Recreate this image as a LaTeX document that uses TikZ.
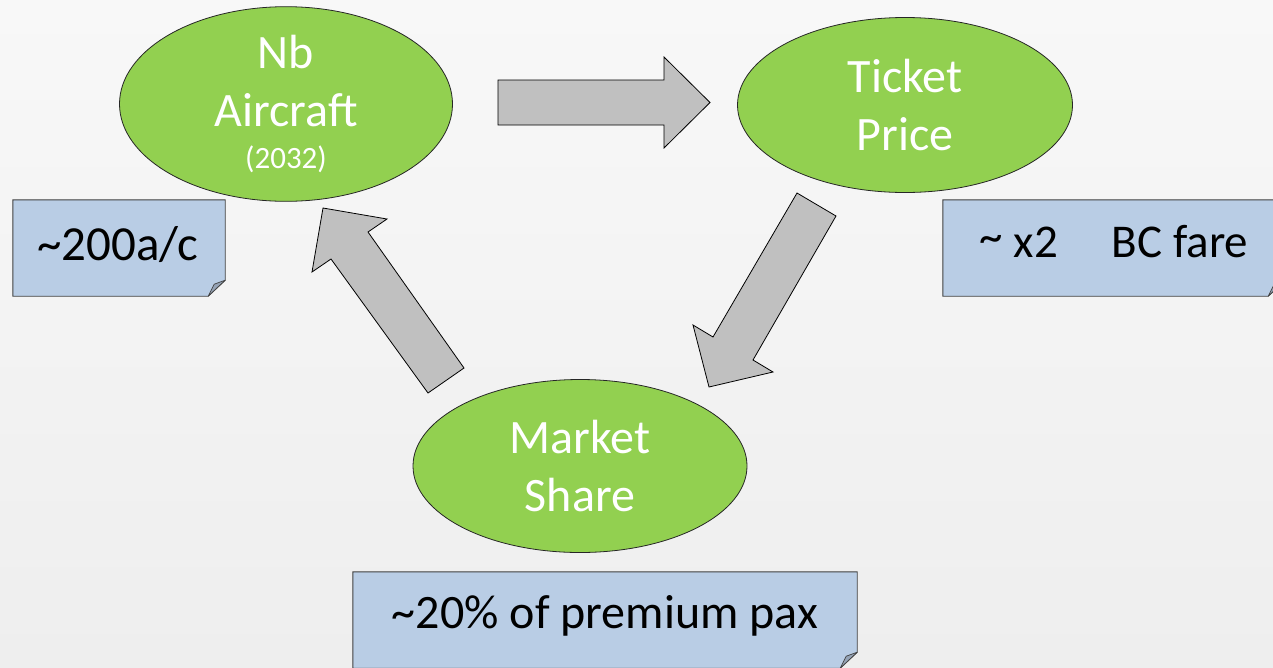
\documentclass[tikz,border=0pt]{standalone}
\usepackage{fontspec}
\setmainfont{Carlito}
\usetikzlibrary{shapes.geometric,backgrounds}
\definecolor{blobgreen}{HTML}{92D050}
\definecolor{notefill}{HTML}{B9CDE5}
\definecolor{foldfill}{HTML}{95A3B6}
\definecolor{arrowgray}{HTML}{C0C0C0}
\definecolor{bgtop}{HTML}{F8F8F8}
\definecolor{bgbot}{HTML}{EEEEEE}
\begin{document}
\begin{tikzpicture}[x=1pt,y=-1pt,
  blob/.style={ellipse, draw=black!85, line width=0.8pt, fill=blobgreen, text=white,
    inner sep=0pt, align=center, font=\fontsize{48}{58}\selectfont},
  notearea/.style={inner sep=0pt},
  notebox/.style={draw=black!75, line width=0.9pt, fill=notefill, line join=miter},
  fold/.style={draw=black!75, line width=0.7pt, fill=foldfill, line join=round},
  notetext/.style={inner sep=0pt, anchor=base, text=black},
  blockarrow/.style={draw=black, line width=0.8pt, fill=arrowgray, line join=miter}]
\useasboundingbox (0,0) rectangle (1273,667);

% ellipses
\node[blob, minimum width=333, minimum height=172] (nb) at (286,104)
  {Nb\\Aircraft\\[-16pt]{\fontsize{31}{34}\selectfont (2032)}};
\node[blob, minimum width=335, minimum height=175] (tp) at (905,105) {Ticket\\Price};
\node[blob, minimum width=334, minimum height=173] (ms) at (580,466) {Market\\Share};

% block arrows
\draw[blockarrow] (498,80) -- (664,80) -- (664,57) -- (710,102.5) -- (664,148)
  -- (664,125) -- (498,125) -- cycle;
\draw[blockarrow] (797,193) -- (836,216) -- (753,360) -- (773,372) -- (709,387)
  -- (693,325) -- (713,337) -- cycle;
\draw[blockarrow] (323,208) -- (387,219) -- (368,232) -- (464,368) -- (428,393)
  -- (331,259) -- (312,272) -- cycle;

% note areas
\node[notearea, minimum width=212, minimum height=96] (n1) at (119,248) {};
\node[notearea, minimum width=342, minimum height=96] (n2) at (1114,248) {};
\node[notearea, minimum width=504, minimum height=96] (n3) at (605,620) {};

% note texts
\node[notetext, font=\fontsize{49}{56}\selectfont] (n1t) at (118,260)
  {\textasciitilde200a/c};
\node[notetext, font=\fontsize{47}{54}\selectfont] (n2t) at (1114,257)
  {\raisebox{5pt}{\textasciitilde}\ x2\hspace{54pt}BC fare};
\node[notetext, font=\fontsize{48}{56}\selectfont] (n3t) at (605,628)
  {\textasciitilde20\% of premium pax};

\begin{pgfonlayer}{background}
  \shade[top color=bgtop, bottom color=bgbot] (0,0) rectangle (1273,667);
  \foreach \n in {n1,n2,n3}{
    \draw[notebox] (\n.north west) -- (\n.north east) -- ([yshift=16pt]\n.south east)
      -- ([xshift=-17pt]\n.south east) -- (\n.south west) -- cycle;
    \draw[fold] ([yshift=16pt]\n.south east) -- ([xshift=-17pt]\n.south east)
      -- ([xshift=-11pt,yshift=12pt]\n.south east) -- cycle;
  }
\end{pgfonlayer}
\end{tikzpicture}
\end{document}
